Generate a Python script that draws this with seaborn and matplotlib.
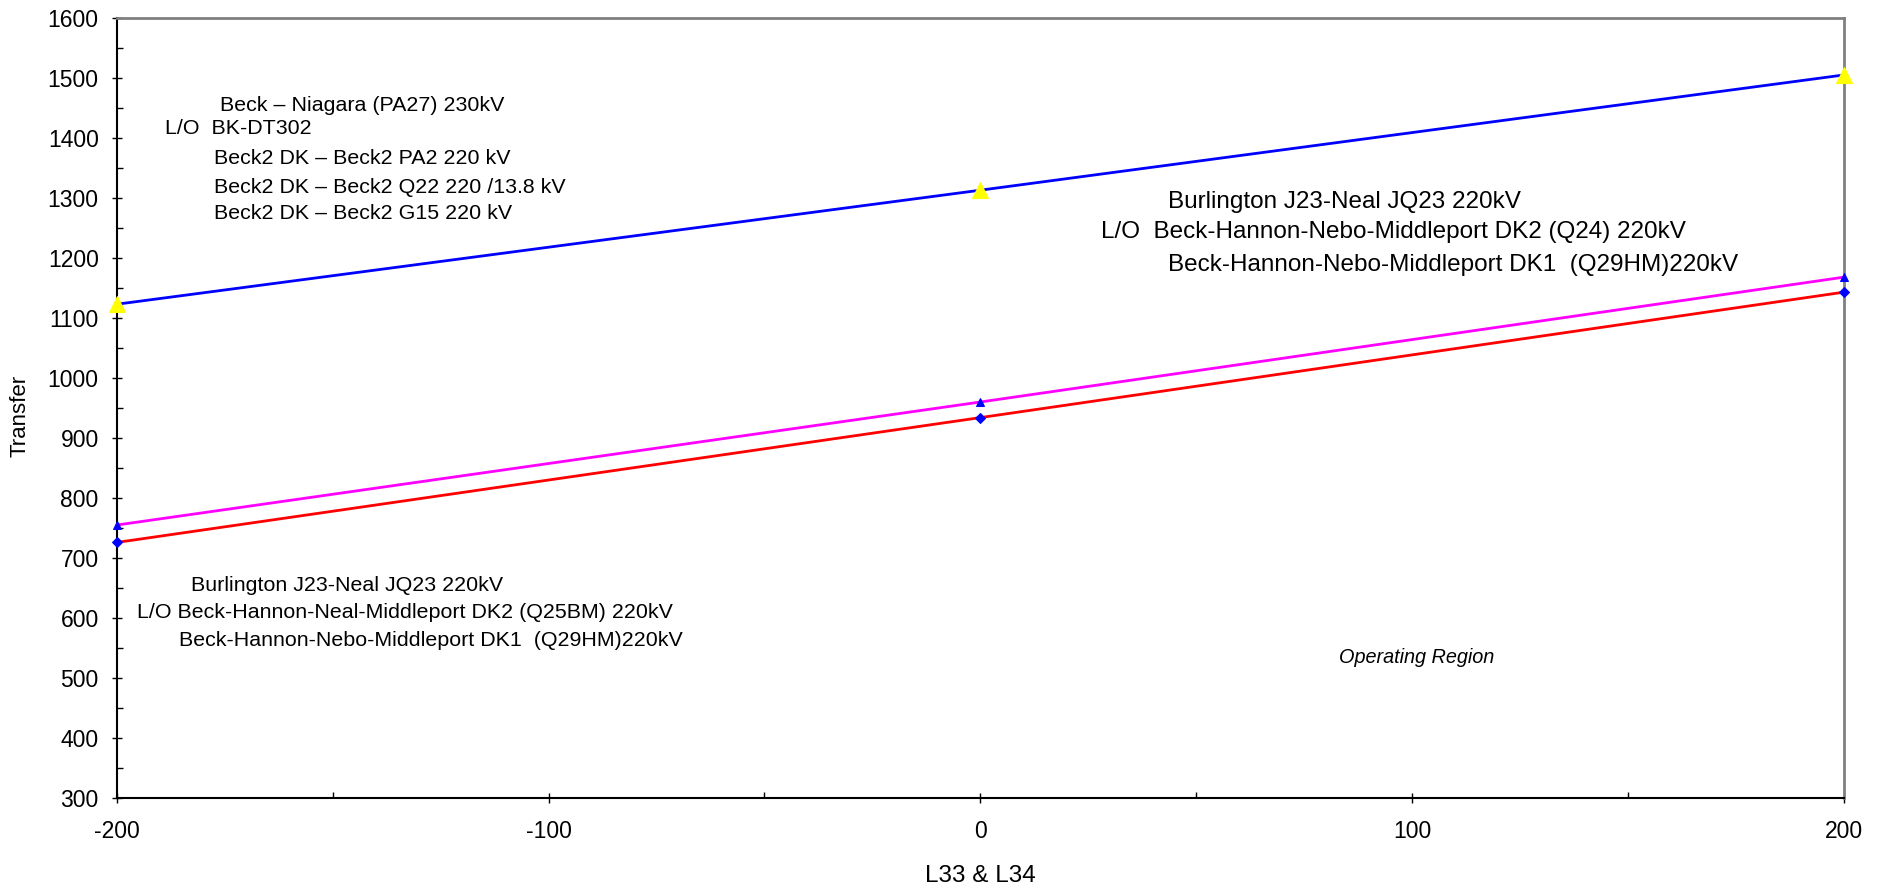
import matplotlib
matplotlib.use("Agg")
import matplotlib.pyplot as plt
from matplotlib.ticker import MultipleLocator
import pandas as pd
import seaborn as sns

# L33 & L34 flow (x) vs transfer limit (y)
flow = [-200, 0, 200]
beck_niagara = [1123, 1313, 1505]
burl_q24 = [755, 960, 1168]
burl_q25bm = [726, 934, 1143]

sns.set_style("white")
plt.rcParams["font.family"] = ["Liberation Sans", "DejaVu Sans"]
plt.rcParams["axes.unicode_minus"] = False
plt.rcParams["text.color"] = "black"
plt.rcParams["axes.labelcolor"] = "black"
plt.rcParams["xtick.color"] = "black"
plt.rcParams["ytick.color"] = "black"

fig = plt.figure(figsize=(18.87, 8.86), dpi=100)
ax = fig.add_axes([0.062, 0.0993, 0.915, 0.8804])

df = pd.DataFrame({"flow": flow, "beck": beck_niagara, "q24": burl_q24, "q25": burl_q25bm})

sns.lineplot(data=df, x="flow", y="beck", ax=ax, color="#0000ff", linewidth=2,
             marker="^", markersize=11, markerfacecolor="#ffff00", markeredgecolor="#ffff00",
             zorder=3, clip_on=False)
sns.lineplot(data=df, x="flow", y="q24", ax=ax, color="#ff00ff", linewidth=2,
             marker="^", markersize=6, markerfacecolor="#0000ff", markeredgecolor="#0000ff",
             zorder=3, clip_on=False)
sns.lineplot(data=df, x="flow", y="q25", ax=ax, color="#ff0000", linewidth=2,
             marker="D", markersize=5, markerfacecolor="#0000ff", markeredgecolor="#0000ff",
             zorder=3, clip_on=False)

ax.set_xlim(-200, 200)
ax.set_ylim(300, 1600)
ax.xaxis.set_major_locator(MultipleLocator(100))
ax.xaxis.set_minor_locator(MultipleLocator(50))
ax.yaxis.set_major_locator(MultipleLocator(100))
ax.yaxis.set_minor_locator(MultipleLocator(50))

ax.tick_params(which="major", direction="inout", length=7.2, width=1, color="black",
               labelcolor="black", labelsize=16.5, bottom=True, left=True)
ax.tick_params(which="minor", direction="in", length=4.3, width=1, color="black",
               bottom=True, left=True)
ax.tick_params(axis="x", which="major", pad=12.5)
ax.tick_params(axis="y", which="major", pad=9.6)

for side in ["left", "bottom"]:
    ax.spines[side].set_color("black")
    ax.spines[side].set_linewidth(1.5)
for side in ["top", "right"]:
    ax.spines[side].set_color("#808080")
    ax.spines[side].set_linewidth(2)

ax.set_xlabel("L33 & L34", fontsize=17.5, va="center", color="black")
ax.xaxis.set_label_coords(0.5, -0.1)
ax.set_ylabel("Transfer", fontsize=16, va="center", ha="center", color="black")
ax.yaxis.set_label_coords(-0.056, 0.49)

# upper left note
fs = 15.4
ax.text(-176.1, 1454, "Beck \u2013 Niagara (PA27) 230kV", fontsize=fs, va="center")
ax.text(-188.9, 1416, "L/O  BK-DT302", fontsize=fs, va="center")
ax.text(-177.5, 1366, "Beck2 DK \u2013 Beck2 PA2 220 kV", fontsize=fs, va="center")
ax.text(-177.5, 1318, "Beck2 DK \u2013 Beck2 Q22 220 /13.8 kV", fontsize=fs, va="center")
ax.text(-177.5, 1274, "Beck2 DK \u2013 Beck2 G15 220 kV", fontsize=fs, va="center")

# right note
fs = 17.5
ax.text(43.4, 1293, "Burlington J23-Neal JQ23 220kV", fontsize=fs, va="center")
ax.text(27.9, 1243, "L/O  Beck-Hannon-Nebo-Middleport DK2 (Q24) 220kV", fontsize=fs, va="center")
ax.text(43.4, 1189, "Beck-Hannon-Nebo-Middleport DK1  (Q29HM)220kV", fontsize=fs, va="center")

# lower left note
fs = 15.4
ax.text(-182.9, 654, "Burlington J23-Neal JQ23 220kV", fontsize=fs, va="center")
ax.text(-195.4, 609, "L/O Beck-Hannon-Neal-Middleport DK2 (Q25BM) 220kV", fontsize=fs, va="center")
ax.text(-185.6, 562, "Beck-Hannon-Nebo-Middleport DK1  (Q29HM)220kV", fontsize=fs, va="center")

ax.text(83.0, 535, "Operating Region", fontsize=14.3, va="center", style="italic")

fig.savefig("out.png", dpi=100, facecolor="white")
